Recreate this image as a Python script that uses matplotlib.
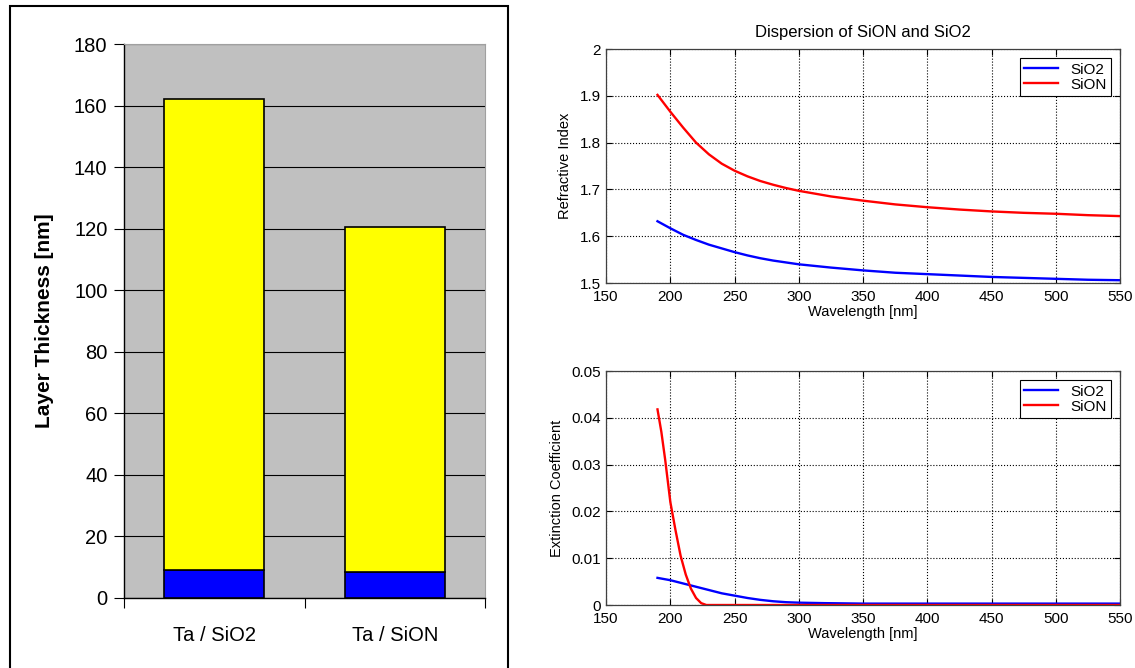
import numpy as np
import matplotlib
matplotlib.use("Agg")
import matplotlib.pyplot as plt
from matplotlib.patches import Rectangle

plt.rcParams['font.family'] = ['Liberation Sans', 'DejaVu Sans']

# left chart: stacked layer thickness
stacks = ['Ta / SiO2', 'Ta / SiON']
ta_nm = [9, 8.5]
top_nm = [153, 112]  # dielectric on top of Ta
bar_ticks = [0, 20, 40, 60, 80, 100, 120, 140, 160, 180]

# refractive index
wl_n = [190, 200, 210, 220, 230, 240, 250, 260, 270, 280, 290, 300,
        325, 350, 375, 400, 425, 450, 475, 500, 525, 550]
n_sio2 = [1.632, 1.617, 1.603, 1.592, 1.582, 1.574, 1.566, 1.559, 1.553, 1.548, 1.544, 1.540,
          1.533, 1.527, 1.522, 1.519, 1.516, 1.513, 1.511, 1.509, 1.507, 1.506]
n_sion = [1.902, 1.866, 1.832, 1.800, 1.775, 1.755, 1.740, 1.728, 1.718, 1.710, 1.703, 1.697,
          1.685, 1.676, 1.668, 1.662, 1.657, 1.653, 1.650, 1.648, 1.645, 1.643]

# extinction coefficient
wl_k_sio2 = [190, 200, 210, 220, 230, 240, 250, 260, 270, 280, 290, 300, 320, 350, 400, 450, 500, 550]
k_sio2 = [0.0058, 0.0053, 0.0046, 0.0039, 0.0032, 0.0025, 0.0020, 0.0015, 0.0011, 0.0008,
          0.0006, 0.0005, 0.0004, 0.0003, 0.0003, 0.0003, 0.0003, 0.0003]
wl_k_sion = [190, 193, 196, 200, 204, 208, 212, 216, 220, 224, 228, 240, 300, 400, 550]
k_sion = [0.0418, 0.037, 0.031, 0.022, 0.016, 0.0105, 0.0065, 0.0035, 0.0015, 0.0004,
          0.0, 0.0, 0.0, 0.0, 0.0]

fig = plt.figure(figsize=(11.35, 6.68), dpi=100)
fig.patches.append(Rectangle((0.0088, -0.01), 0.4388, 1.001, transform=fig.transFigure,
                             fill=False, edgecolor='black', linewidth=1.5))

# ---- bar chart
ax = fig.add_axes([0.1093, 0.1048, 0.318, 0.8293])
ax.set_facecolor('#C0C0C0')
pos = [0.5, 1.5]
ax.bar(pos, ta_nm, width=0.555, color='#0000FF', edgecolor='black', linewidth=1.2, zorder=3)
ax.bar(pos, top_nm, bottom=ta_nm, width=0.555, color='#FFFF00', edgecolor='black',
       linewidth=1.2, zorder=3)
ax.set_xlim(0, 2)
ax.set_ylim(0, 180)
ax.set_yticks(bar_ticks)
ax.yaxis.grid(True, color='black', linewidth=0.8)
ax.set_axisbelow(True)
ax.set_xticks([0, 1, 2])
ax.set_xticklabels([])
ax.set_xticks(pos, minor=True)
ax.set_xticklabels(stacks, minor=True, fontsize=14.5)
ax.tick_params(axis='x', which='minor', length=0, pad=20)
ax.tick_params(axis='x', which='major', length=7, direction='out')
ax.tick_params(axis='y', labelsize=14.5, length=7, direction='out', pad=5)
for s in ['top', 'right']:
    ax.spines[s].set_color('#A0A0A0')
ax.spines['left'].set_linewidth(1)
ax.spines['bottom'].set_linewidth(1)
ax.set_ylabel('Layer Thickness [nm]', fontsize=15, fontweight='bold', labelpad=14)


def matlab_style(a):
    a.set_xlim(150, 550)
    a.set_xticks(np.arange(150, 551, 50))
    a.grid(True, color='black', linestyle=':', linewidth=0.8)
    a.tick_params(direction='in', top=True, right=True, labelsize=11, length=4)
    a.tick_params(axis='x', pad=5)
    a.tick_params(axis='y', pad=4)
    a.set_xlabel('Wavelength [nm]', fontsize=10.5, labelpad=1)
    for s in a.spines.values():
        s.set_linewidth(0.9)
        s.set_color('#404040')


ax1 = fig.add_axes([0.534, 0.5763, 0.4529, 0.3503])
ax1.plot(wl_n, n_sio2, color='#0000FF', linewidth=1.7, label='SiO2')
ax1.plot(wl_n, n_sion, color='#FF0000', linewidth=1.7, label='SiON')
ax1.set_ylim(1.5, 2)
ax1.set_yticks([1.5, 1.6, 1.7, 1.8, 1.9, 2.0])
ax1.set_yticklabels(['1.5', '1.6', '1.7', '1.8', '1.9', '2'])
matlab_style(ax1)
ax1.set_ylabel('Refractive Index', fontsize=10.5, labelpad=5)
ax1.set_title('Dispersion of SiON and SiO2', fontsize=12, pad=9)
leg = ax1.legend(loc='upper right', fontsize=11, fancybox=False, edgecolor='black',
                 framealpha=1, handlelength=2.2, borderaxespad=0.6, labelspacing=0.05,
                 borderpad=0.3)
leg.get_frame().set_linewidth(0.8)

ax2 = fig.add_axes([0.534, 0.0943, 0.4529, 0.3503])
ax2.plot(wl_k_sio2, k_sio2, color='#0000FF', linewidth=1.7, label='SiO2')
ax2.plot(wl_k_sion, k_sion, color='#FF0000', linewidth=1.7, label='SiON')
ax2.set_ylim(0, 0.05)
ax2.set_yticks([0, 0.01, 0.02, 0.03, 0.04, 0.05])
ax2.set_yticklabels(['0', '0.01', '0.02', '0.03', '0.04', '0.05'])
matlab_style(ax2)
ax2.set_ylabel('Extinction Coefficient', fontsize=10.5, labelpad=5)
leg = ax2.legend(loc='upper right', fontsize=11, fancybox=False, edgecolor='black',
                 framealpha=1, handlelength=2.2, borderaxespad=0.6, labelspacing=0.05,
                 borderpad=0.3)
leg.get_frame().set_linewidth(0.8)

fig.savefig('out.png', dpi=100)
